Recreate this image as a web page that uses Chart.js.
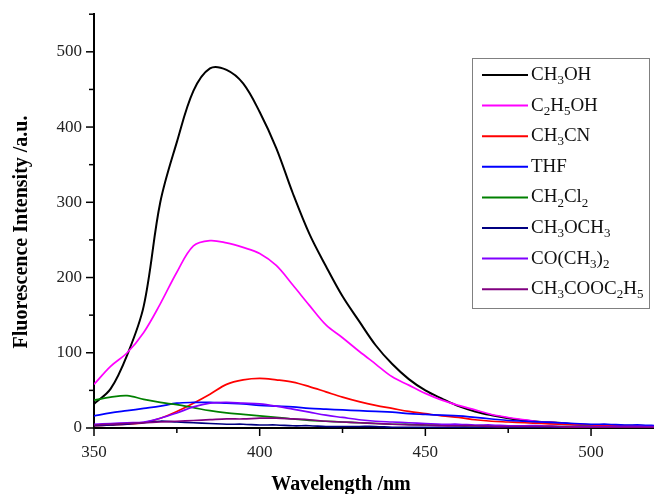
<!DOCTYPE html>
<html>
<head>
<meta charset="utf-8">
<script src="https://cdn.jsdelivr.net/npm/chart.js@4/dist/chart.umd.min.js"></script>
<style>
  html, body { margin: 0; padding: 0; background: #fff; }
  #wrap { width: 654px; height: 494px; position: relative; }
</style>
</head>
<body>
<div id="wrap"><canvas id="spectra"></canvas></div>
<script>
// Emission spectra (nm / a.u.)
const wavelength = [350, 355, 360, 365, 370, 375, 380, 385, 390, 395, 400, 405, 410, 415, 420, 425, 430, 435,
                    440, 445, 450, 455, 460, 465, 470, 475, 480, 485, 490, 495, 500, 505, 510, 515, 520];

const ch3oh     = [32, 52, 97, 162, 300, 380, 448, 478, 476, 458, 420, 372, 312, 258, 215, 175, 142, 110,
                   85, 65, 50, 39, 29, 22, 17, 13, 10, 8, 7, 5, 4, 4, 3, 3, 2];
const c2h5oh    = [58, 82, 100, 127, 165, 207, 242, 249, 246, 240, 232, 216, 190, 163, 137, 120, 102, 85,
                   68, 57, 46, 37, 30, 24, 18, 14, 11, 8, 7, 5, 4, 4, 3, 3, 2];
const ch3cn     = [3, 4, 5, 7, 13, 22, 33, 45, 58, 64, 66, 64, 61, 55, 48, 41, 35, 30,
                   26, 22, 19, 16, 14, 11, 9, 8, 7, 6, 5, 4, 4, 3, 3, 2, 2];
const thf       = [16, 20, 23, 26, 29, 33, 34, 34, 33, 32, 30, 29, 28, 26, 25, 24, 23, 22,
                   21, 19, 18, 17, 16, 14, 12, 10, 9, 8, 7, 6, 5, 5, 4, 4, 3];
const ch2cl2    = [37, 41, 43, 38, 34, 31, 27, 23, 20, 18, 16, 14, 12, 10, 9, 8, 7, 6,
                   5, 5, 4, 4, 3, 3, 3, 2, 2, 2, 2, 2, 2, 1, 1, 1, 1];
const ch3och3   = [3, 4, 5, 7, 9, 8, 7, 6, 5, 5, 4, 4, 3, 3, 2, 2, 2, 2,
                   1, 1, 1, 1, 1, 1, 1, 1, 1, 1, 1, 1, 1, 1, 1, 1, 1];
const co_ch3_2  = [5, 6, 7, 8, 13, 20, 28, 33, 34, 33, 32, 29, 25, 21, 17, 14, 11, 9,
                   8, 7, 6, 5, 5, 4, 4, 3, 3, 3, 2, 2, 2, 2, 2, 2, 2];
const etoac     = [4, 5, 6, 7, 8, 9, 10, 11, 12, 12, 13, 13, 12, 11, 9, 8, 7, 6,
                   5, 4, 4, 3, 3, 3, 2, 2, 2, 2, 2, 1, 1, 1, 1, 1, 1];

const seriesLabels = ['CH_3OH', 'C_2H_5OH', 'CH_3CN', 'THF', 'CH_2Cl_2', 'CH_3OCH_3', 'CO(CH_3)_2', 'CH_3COOC_2H_5'];
const seriesValues = [ch3oh, c2h5oh, ch3cn, thf, ch2cl2, ch3och3, co_ch3_2, etoac];
const seriesColors = ['#000000', '#ff00ff', '#ff0000', '#0000ff', '#008000', '#000080', '#8000ff', '#800080'];

const xTickLabels = [350, 400, 450, 500];
const xMinorTicks = [375, 425, 475];
const yTickLabels = [0, 100, 200, 300, 400, 500];
const yMinorTicks = [50, 150, 250, 350, 450, 550];

const SERIF = '"Liberation Serif", "Times New Roman", serif';

// tick marks: long on labelled values, short in between
const tickMarks = {
    id: 'tickMarks',
    afterDraw(chart) {
        const { ctx, scales: { x, y }, chartArea } = chart;
        ctx.save();
        ctx.strokeStyle = '#000';
        ctx.lineWidth = 1.5;
        const mark = (x1, y1, x2, y2) => { ctx.beginPath(); ctx.moveTo(x1, y1); ctx.lineTo(x2, y2); ctx.stroke(); };
        xTickLabels.forEach(v => { const px = x.getPixelForValue(v); mark(px, chartArea.bottom, px, chartArea.bottom + 8); });
        xMinorTicks.forEach(v => { const px = x.getPixelForValue(v); mark(px, chartArea.bottom, px, chartArea.bottom + 5); });
        yTickLabels.forEach(v => { const py = y.getPixelForValue(v); mark(chartArea.left, py, chartArea.left - 8, py); });
        yMinorTicks.forEach(v => { const py = y.getPixelForValue(v); mark(chartArea.left, py, chartArea.left - 5, py); });
        ctx.restore();
    }
};

// draw a formula like CH_3OH with lowered small digits
function drawFormula(ctx, text, x, y, size) {
    const parts = text.split(/(_\d)/).filter(p => p.length);
    let cx = x;
    parts.forEach(p => {
        if (p[0] === '_') {
            ctx.font = `${Math.round(size * 0.7)}px ${SERIF}`;
            ctx.fillText(p.slice(1), cx, y + size * 0.3);
            cx += ctx.measureText(p.slice(1)).width;
        } else {
            ctx.font = `${size}px ${SERIF}`;
            ctx.fillText(p, cx, y);
            cx += ctx.measureText(p).width;
        }
    });
}

const formulaLegend = {
    id: 'formulaLegend',
    afterDraw(chart) {
        const { ctx } = chart;
        const box = { left: 472, top: 58, right: 649, bottom: 308 };
        ctx.save();
        ctx.fillStyle = '#fff';
        ctx.fillRect(box.left, box.top, box.right - box.left, box.bottom - box.top);
        ctx.strokeStyle = '#808080';
        ctx.lineWidth = 1;
        ctx.strokeRect(box.left + 0.5, box.top + 0.5, box.right - box.left, box.bottom - box.top);
        seriesLabels.forEach((label, i) => {
            const rowY = 75 + i * 30.6;
            ctx.strokeStyle = seriesColors[i];
            ctx.lineWidth = 2;
            ctx.beginPath(); ctx.moveTo(482, rowY); ctx.lineTo(528, rowY); ctx.stroke();
            ctx.fillStyle = '#111';
            ctx.textBaseline = 'middle';
            drawFormula(ctx, label, 531, rowY, 19);
        });
        ctx.restore();
    }
};

const axisTitles = {
    id: 'axisTitles',
    afterDraw(chart) {
        const { ctx } = chart;
        ctx.save();
        ctx.fillStyle = '#000';
        ctx.font = `bold 20px ${SERIF}`;
        ctx.textAlign = 'center';
        ctx.textBaseline = 'middle';
        ctx.fillText('Wavelength /nm', 341, 485);
        ctx.translate(22, 232);
        ctx.rotate(-Math.PI / 2);
        ctx.fillText('Fluorescence Intensity /a.u.', 0, 0);
        ctx.restore();
    }
};

new Chart(document.getElementById('spectra'), {
    type: 'line',
    data: {
        labels: wavelength,
        // drawn last-to-first so the methanol curve sits on top
        datasets: seriesLabels.map((label, i) => ({
            label,
            data: wavelength.map((w, j) => ({ x: w, y: seriesValues[i][j] })),
            borderColor: seriesColors[i],
            borderWidth: i === 0 ? 2 : 1.7,
            pointRadius: 0,
            tension: 0.35,
            fill: false
        })).reverse()
    },
    options: {
        animation: false,
        responsive: true,
        maintainAspectRatio: false,
        layout: { padding: { top: 14, right: 0, left: 0, bottom: 0 } },
        scales: {
            x: {
                type: 'linear',
                min: 350,
                max: 519,
                afterBuildTicks: s => { s.ticks = xTickLabels.map(v => ({ value: v })); },
                afterFit: s => { s.height = 66; },
                grid: { display: false },
                border: { display: true, color: '#000', width: 2 },
                ticks: { color: '#222', padding: 6, font: { family: SERIF, size: 17 } }
            },
            y: {
                min: 0,
                max: 550,
                afterBuildTicks: s => { s.ticks = yTickLabels.map(v => ({ value: v })); },
                afterFit: s => { s.width = 94; },
                grid: { display: false },
                border: { display: true, color: '#000', width: 2 },
                ticks: { color: '#222', padding: 4, font: { family: SERIF, size: 17 } }
            }
        },
        plugins: {
            legend: { display: false },
            tooltip: { enabled: false }
        }
    },
    plugins: [tickMarks, axisTitles, formulaLegend]
});
</script>
</body>
</html>
